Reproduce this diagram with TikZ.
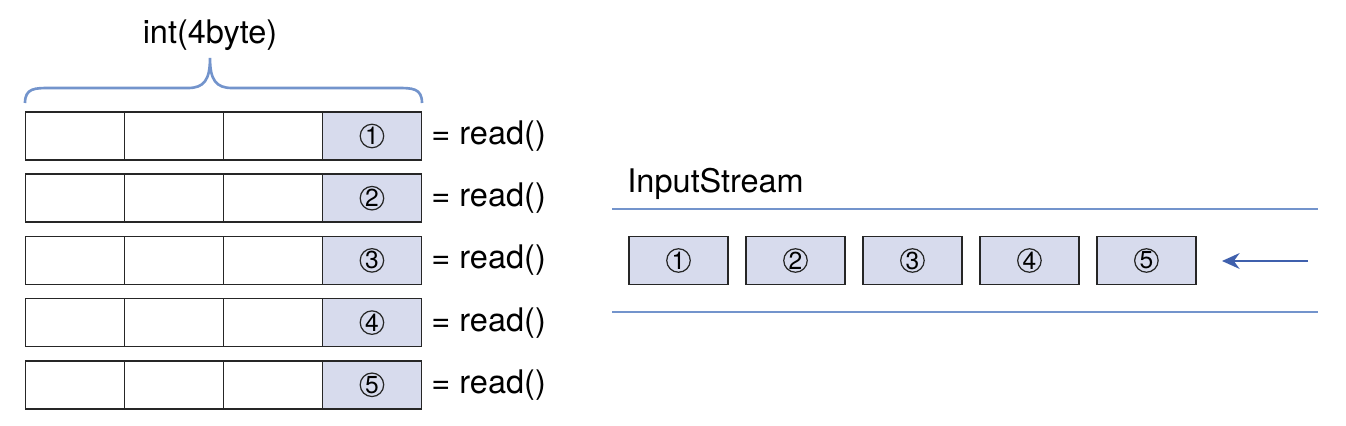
\documentclass[tikz,border=0pt]{standalone}
\usepackage{fontspec}
\setmainfont{TeX Gyre Heros}
\usetikzlibrary{positioning,arrows.meta}
\definecolor{cellfill}{HTML}{D7DBED}
\definecolor{lineblue}{HTML}{7394CC}
\definecolor{arrowblue}{HTML}{3F60AD}
\tikzset{
  cell/.style={draw=black!85, minimum width=1.98cm, minimum height=0.96cm,
    inner sep=0pt, outer sep=0pt, line width=0.9pt},
  bytecell/.style={cell, fill=cellfill},
  digit/.style={circle, draw=black!85, line width=0.7pt, minimum size=0.47cm,
    inner sep=0pt, font=\fontsize{14}{14}\selectfont},
  txt/.style={font=\fontsize{18.5}{20}\selectfont, inner sep=0pt},
  streamline/.style={draw=lineblue, line width=1.5pt},
}
\begin{document}
\begin{tikzpicture}[x=0.02cm, y=-0.02cm]
\useasboundingbox (0,0) rectangle (1346,426);

% int rows on the left
\foreach \i in {1,...,5}{
  \node[cell] (r\i a) at (75,{136+62.2*(\i-1)}) {};
  \node[cell, right=0pt of r\i a] (r\i b) {};
  \node[cell, right=0pt of r\i b] (r\i c) {};
  \node[bytecell, right=0pt of r\i c] (r\i d) {};
  \node[digit] (n\i) at (r\i d) {\i};
  \node[txt, right=5.5pt of r\i d] (eq\i) {= read()};
}

% brace over the first row
\node[txt] (inttxt) at (210,35) {int(4byte)};
\coordinate (brace w) at (25,103);
\coordinate (brace tip) at (210,58);
\coordinate (brace e) at (422,103);
\draw[streamline] (brace w) .. controls (25,88) and (35,88) .. (50,88) -- (188,88)
  .. controls (204,88) and (210,80) .. (brace tip)
  .. controls (210,80) and (216,88) .. (232,88) -- (397,88)
  .. controls (412,88) and (422,88) .. (brace e);

% the stream
\node[txt, anchor=west] (title) at (627,184) {InputStream};
\coordinate (top w) at (612,209);
\coordinate (top e) at (1318,209);
\coordinate (bot w) at (612,312);
\coordinate (bot e) at (1318,312);
\draw[streamline] (top w) -- (top e);
\draw[streamline] (bot w) -- (bot e);

\node[bytecell] (s1) at (678.5,260.5) {};
\node[digit] (m1) at (s1) {1};
\foreach \i [remember=\i as \prev (initially 1)] in {2,...,5}{
  \node[bytecell, right=0.36cm of s\prev] (s\i) {};
  \node[digit] (m\i) at (s\i) {\i};
}

\coordinate (src) at (1308,261);
\coordinate (dst) at (1222,261);
\draw[arrowblue, line width=1.2pt, -{Stealth[length=10pt,width=9pt]}] (src) -- (dst);
\end{tikzpicture}
\end{document}
